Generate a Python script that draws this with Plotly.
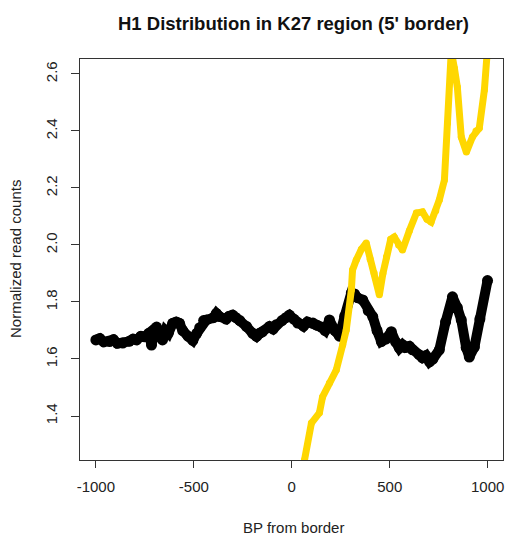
import plotly.graph_objects as go

# Black series (H1 in K27 region)
black_x = [-1000, -980, -960, -930, -910, -890, -863, -830, -810, -792, -770, -751, -730, -716,
           -700, -690, -675, -660, -645, -630, -608, -590, -573, -557, -530, -505, -485, -470,
           -450, -436, -400, -385, -369, -335, -320, -302, -285, -265, -231, -200, -180, -165,
           -150, -114, -95, -80, -50, -30, -12, 10, 30, 60, 80, 108, 130, 150, 170, 192, 220,
           243, 270, 304, 320, 335, 362, 390, 413, 435, 457, 480, 508, 530, 549, 565, 580, 600,
           616, 650, 667, 685, 703, 720, 753, 785, 820, 845, 865, 890, 906, 932, 960, 999]
black_y = [1.667, 1.672, 1.660, 1.661, 1.668, 1.655, 1.656, 1.662, 1.670, 1.667, 1.680, 1.678,
           1.690, 1.649, 1.700, 1.712, 1.680, 1.667, 1.700, 1.690, 1.725, 1.730, 1.725, 1.700,
           1.680, 1.665, 1.690, 1.710, 1.735, 1.737, 1.745, 1.760, 1.749, 1.740, 1.750, 1.754,
           1.745, 1.735, 1.714, 1.690, 1.679, 1.690, 1.695, 1.714, 1.705, 1.720, 1.735, 1.745,
           1.754, 1.740, 1.726, 1.715, 1.730, 1.726, 1.718, 1.712, 1.700, 1.737, 1.700, 1.680,
           1.750, 1.832, 1.828, 1.815, 1.807, 1.770, 1.749, 1.700, 1.661, 1.670, 1.696, 1.660,
           1.638, 1.650, 1.640, 1.645, 1.632, 1.615, 1.604, 1.612, 1.590, 1.600, 1.632, 1.730,
           1.818, 1.780, 1.737, 1.640, 1.607, 1.642, 1.740, 1.875]

# Yellow series
gold_x = [20, 65, 100, 141, 157, 192, 227, 260, 278, 304, 310, 329, 355, 380, 400, 420, 447,
          465, 483, 505, 523, 545, 565, 600, 636, 667, 690, 711, 735, 753, 779, 795, 814, 830,
          845, 865, 891, 922, 940, 957, 983, 1000]
gold_y = [1.12, 1.246, 1.375, 1.411, 1.467, 1.516, 1.561, 1.650, 1.702, 1.842, 1.912, 1.947,
          1.985, 2.007, 1.950, 1.902, 1.825, 1.900, 1.958, 2.020, 2.028, 2.000, 1.982, 2.050,
          2.112, 2.116, 2.090, 2.081, 2.120, 2.158, 2.228, 2.428, 2.680, 2.620, 2.554, 2.379,
          2.326, 2.379, 2.400, 2.410, 2.544, 2.700]

x_ticks = [-1000, -500, 0, 500, 1000]
y_ticks = [1.4, 1.6, 1.8, 2.0, 2.2, 2.4, 2.6]

fig = go.Figure()
fig.add_trace(go.Scatter(x=black_x, y=black_y, mode="lines+markers",
                         line=dict(color="black", width=10),
                         marker=dict(color="black", size=11, line=dict(width=0)),
                         cliponaxis=True, showlegend=False, hoverinfo="skip"))
fig.add_trace(go.Scatter(x=gold_x, y=gold_y, mode="lines+markers",
                         line=dict(color="#FFD700", width=7),
                         marker=dict(color="#FFD700", size=7, line=dict(width=0)),
                         cliponaxis=True, showlegend=False, hoverinfo="skip"))

font_family = "Liberation Sans, Arial, sans-serif"
fig.update_layout(
    width=507, height=538,
    margin=dict(l=80, r=4, t=59, b=78),
    plot_bgcolor="white", paper_bgcolor="white",
    font=dict(family=font_family, size=15, color="#222"),
    xaxis=dict(range=[-1081, 1078], tickvals=x_ticks, ticktext=[str(v) for v in x_ticks],
               showgrid=False, zeroline=False, showline=True, mirror=True, linecolor="#333",
               linewidth=1, ticks="outside", ticklen=7, tickcolor="#333",
               ticklabelstandoff=6, tickfont=dict(size=15)),
    yaxis=dict(range=[1.2456, 2.6526], tickvals=y_ticks, ticktext=[f"{v:.1f}" for v in y_ticks],
               tickangle=-90,
               showgrid=False, zeroline=False, showline=True, mirror=True, linecolor="#333",
               linewidth=1, ticks="outside", ticklen=8, tickcolor="#333",
               ticklabelstandoff=8, tickfont=dict(size=15)),
    annotations=[
        dict(text="<b>H1 Distribution in K27 region (5' border)</b>", xref="paper", yref="paper",
             x=(293 - 80) / 423, y=(460 - 23) / 401, showarrow=False,
             xanchor="center", yanchor="middle", font=dict(size=18.5, color="#111")),
        dict(text="BP from border", xref="paper", yref="paper",
             x=(293 - 80) / 423, y=(460 - 527) / 401, showarrow=False,
             xanchor="center", yanchor="middle", font=dict(size=15)),
        dict(text="Normalized read counts", xref="paper", yref="paper",
             x=(15 - 80) / 423, y=(460 - 259) / 401, showarrow=False, textangle=-90,
             xanchor="center", yanchor="middle", font=dict(size=15)),
    ],
)

fig.write_html("out.html")
